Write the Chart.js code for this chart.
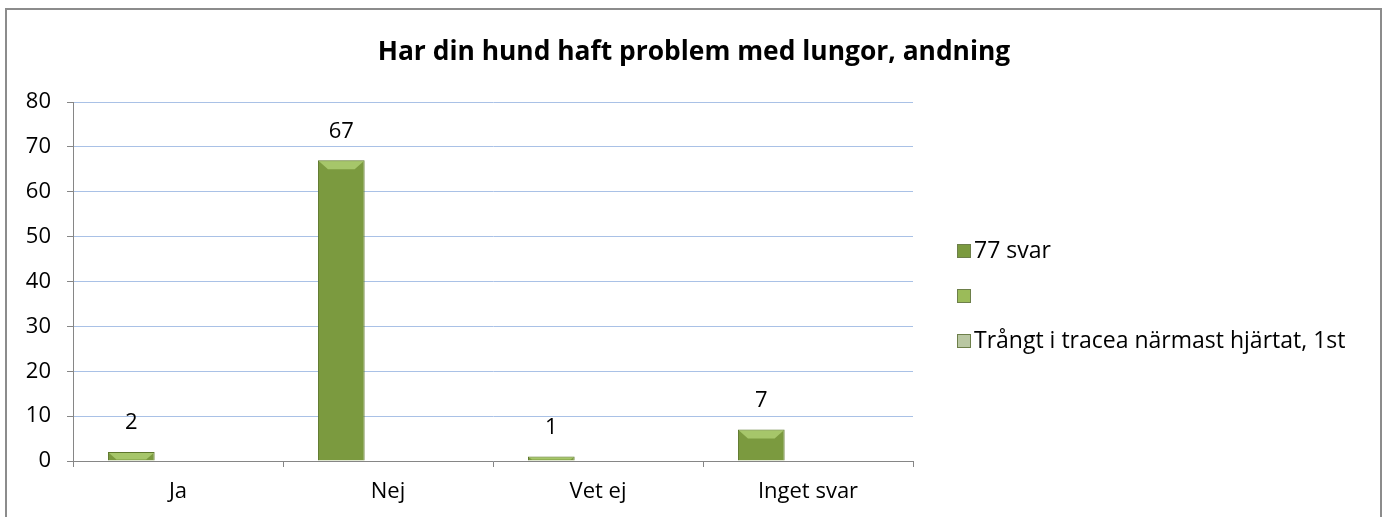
<!DOCTYPE html>
<html>
<head>
<meta charset="utf-8">
<script src="https://cdn.jsdelivr.net/npm/chart.js@4.4.0/dist/chart.umd.min.js"></script>
<style>
  html, body { margin: 0; padding: 0; background: #fff; }
  #wrap { position: relative; width: 1386px; height: 517px; overflow: hidden; }
  #frame { position: absolute; left: 5px; top: 8px; width: 1373px; height: 560px; border: 2px solid #8c8c8c; }
  canvas { position: absolute; left: 0; top: 0; }
</style>
</head>
<body>
<div id="wrap">
  <div id="frame"></div>
  <canvas id="lungChart" width="1386" height="517"></canvas>
</div>
<script>
// --- data ---
const chartTitle = 'Har din hund haft problem med lungor, andning';
const categories = ['Ja', 'Nej', 'Vet ej', 'Inget svar'];
const seriesNames = ['77 svar', '', 'Trångt i tracea närmast hjärtat, 1st'];
const answers = [2, 67, 1, 7];
const emptySeries = [null, null, null, null];
const tracheaSeries = [null, null, null, null];
const yTicks = [0, 10, 20, 30, 40, 50, 60, 70, 80];

// --- look ---
const FONT = '"Open Sans", sans-serif';
const TEXT_SIZE = 22;
const LEGEND_SIZE = 23;
const seriesColors = ['#7B9A3F', '#9BBB59', '#B9C7A2'];
const bevelColors = ['#A6C66A', '#C4DE86', '#D6E0C6'];

// draws title, value labels, bar bevels and the legend on the canvas
const decorations = {
    id: 'decorations',
    afterDatasetsDraw(chart) {
        const ctx = chart.ctx;
        ctx.save();

        // top bevel on each bar (Excel style)
        chart.data.datasets.forEach((ds, i) => {
            chart.getDatasetMeta(i).data.forEach((bar, j) => {
                if (ds.data[j] == null) return;
                const half = bar.width / 2;
                const h = bar.base - bar.y;
                const b = Math.min(9, h - 1);
                if (b <= 0) return;
                ctx.fillStyle = bevelColors[i];
                ctx.beginPath();
                ctx.moveTo(bar.x - half + 1, bar.y + 1);
                ctx.lineTo(bar.x + half - 1, bar.y + 1);
                ctx.lineTo(bar.x + half - 1 - b, bar.y + b);
                ctx.lineTo(bar.x - half + 1 + b, bar.y + b);
                ctx.closePath();
                ctx.fill();
            });
        });

        // value labels above bars
        ctx.font = `${TEXT_SIZE}px ${FONT}`;
        ctx.fillStyle = '#000';
        ctx.textAlign = 'center';
        ctx.textBaseline = 'middle';
        chart.data.datasets.forEach((ds, i) => {
            chart.getDatasetMeta(i).data.forEach((bar, j) => {
                const v = ds.data[j];
                if (v == null) return;
                ctx.fillText(String(v), bar.x, bar.y - 29);
            });
        });

        // title
        ctx.font = `bold 26.4px ${FONT}`;
        ctx.fillText(chartTitle, 694, 52);

        // legend
        ctx.font = `${LEGEND_SIZE}px ${FONT}`;
        ctx.textAlign = 'left';
        chart.data.datasets.forEach((ds, i) => {
            const y = 251 + i * 45;
            ctx.fillStyle = seriesColors[i];
            ctx.fillRect(957, y - 7, 14, 14);
            ctx.strokeStyle = '#6d7f4a';
            ctx.lineWidth = 1;
            ctx.strokeRect(957.5, y - 6.5, 13, 13);
            ctx.fillStyle = '#000';
            ctx.fillText(ds.label, 974, y);
        });

        ctx.restore();
    }
};

const ctx = document.getElementById('lungChart').getContext('2d');
const lungChart = new Chart(ctx, {
    type: 'bar',
    data: {
        labels: categories,
        datasets: [
            { label: seriesNames[0], data: answers, backgroundColor: seriesColors[0], borderColor: '#5E772C', borderWidth: 1 },
            { label: seriesNames[1], data: emptySeries, backgroundColor: seriesColors[1], borderColor: '#7A9A3C', borderWidth: 1 },
            { label: seriesNames[2], data: tracheaSeries, backgroundColor: seriesColors[2], borderColor: '#8E9C76', borderWidth: 1 }
        ]
    },
    options: {
        responsive: false,
        animation: false,
        categoryPercentage: 0.667,
        barPercentage: 1,
        layout: { padding: { left: 0, right: 473, top: 102, bottom: 0 } },
        plugins: {
            legend: { display: false },
            title: { display: false },
            tooltip: { enabled: false }
        },
        scales: {
            x: {
                afterFit: (s) => { s.height = 56; },
                grid: { drawOnChartArea: false, tickLength: 6, tickColor: '#868686', offset: true },
                border: { color: '#868686', width: 1 },
                ticks: { color: '#000', font: { family: FONT, size: TEXT_SIZE }, padding: 12 }
            },
            y: {
                min: 0,
                max: 80,
                afterFit: (s) => { s.width = 73; },
                afterBuildTicks: (s) => { s.ticks = yTicks.map(v => ({ value: v })); },
                grid: { color: '#A9C1E6', tickLength: 6, tickColor: '#868686' },
                border: { color: '#868686', width: 1 },
                ticks: { color: '#000', font: { family: FONT, size: TEXT_SIZE }, padding: 16 }
            }
        }
    },
    plugins: [decorations]
});
</script>
</body>
</html>
